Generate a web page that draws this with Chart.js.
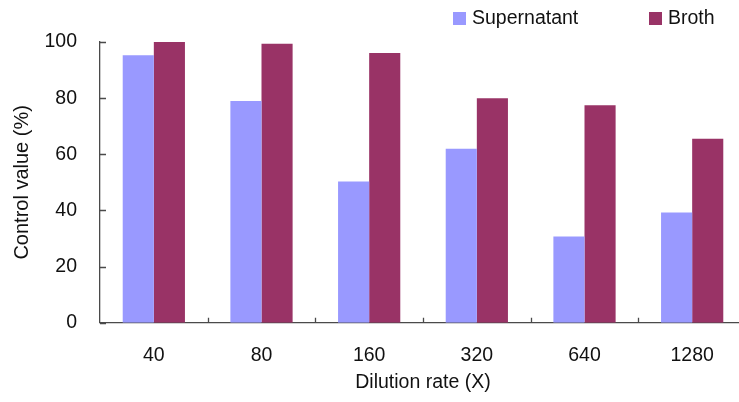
<!DOCTYPE html>
<html>
<head>
<meta charset="utf-8">
<script src="https://cdn.jsdelivr.net/npm/chart.js@4/dist/chart.umd.min.js"></script>
<style>
  html, body { margin: 0; padding: 0; background: #fff; overflow: hidden; }
  #wrap { position: relative; width: 746px; height: 402px; }
</style>
</head>
<body>
<div id="wrap"><canvas id="chart"></canvas></div>
<script>
// Dilution rates (X)
const dilutionRates = ['40', '80', '160', '320', '640', '1280'];
// Control value (%) per dilution rate
const supernatantValues = [95.3, 79.0, 50.3, 62.0, 30.7, 39.3];
const brothValues = [100.0, 99.4, 96.1, 80.0, 77.5, 65.5];
// Y axis ticks
const yTickValues = [0, 20, 40, 60, 80, 100];

const FONT = "'Liberation Sans', Arial, sans-serif";
const AXIS_COLOR = '#4a4a4a';

// Short tick marks drawn inside the plot area, in the style of the axes
const innerTicks = {
  id: 'innerTicks',
  afterDatasetsDraw(chart) {
    const { ctx, chartArea, scales: { x, y } } = chart;
    ctx.save();
    ctx.strokeStyle = AXIS_COLOR;
    ctx.lineWidth = 1.3;
    ctx.beginPath();
    yTickValues.forEach(v => {
      const py = Math.round(y.getPixelForValue(v)) + 0.5;
      ctx.moveTo(chartArea.left, py);
      ctx.lineTo(chartArea.left + 6, py);
    });
    for (let i = 1; i < dilutionRates.length; i++) {
      const px = Math.round((x.getPixelForTick(i - 1) + x.getPixelForTick(i)) / 2) + 0.5;
      ctx.moveTo(px, chartArea.bottom);
      ctx.lineTo(px, chartArea.bottom - 5);
    }
    ctx.stroke();
    ctx.restore();
  }
};

// Legend row above the plot, right side
const topLegend = {
  id: 'topLegend',
  afterDraw(chart) {
    const { ctx } = chart;
    const items = [
      { ds: chart.data.datasets[0], x: 453 },
      { ds: chart.data.datasets[1], x: 649 }
    ];
    ctx.save();
    ctx.font = `19.5px ${FONT}`;
    ctx.textBaseline = 'middle';
    ctx.textAlign = 'left';
    items.forEach(it => {
      ctx.fillStyle = it.ds.backgroundColor;
      ctx.fillRect(it.x, 12, 13, 13);
      ctx.fillStyle = '#111';
      ctx.fillText(it.ds.label, it.x + 19, 18.5);
    });
    ctx.restore();
  }
};

new Chart(document.getElementById('chart'), {
  type: 'bar',
  data: {
    labels: dilutionRates,
    datasets: [
      { label: 'Supernatant', data: supernatantValues, backgroundColor: '#9999ff' },
      { label: 'Broth', data: brothValues, backgroundColor: '#993366' }
    ]
  },
  options: {
    responsive: true,
    maintainAspectRatio: false,
    animation: false,
    datasets: { bar: { categoryPercentage: 0.578, barPercentage: 1.0, borderWidth: 0 } },
    layout: { padding: { top: 42, right: 0, bottom: 0, left: 0 } },
    plugins: {
      legend: { display: false },
      tooltip: { enabled: false }
    },
    scales: {
      x: {
        grid: { display: false, drawTicks: false },
        border: { display: true, color: AXIS_COLOR, width: 1.3 },
        ticks: { color: '#111', padding: 21, font: { family: FONT, size: 19.5 } },
        title: {
          display: true, text: 'Dilution rate (X)', color: '#111',
          font: { family: FONT, size: 19.5 }, padding: { top: 0, bottom: 8 }
        },
        afterFit(scale) { scale.height = 79.3; }
      },
      y: {
        min: 0, max: 100,
        afterBuildTicks(scale) { scale.ticks = yTickValues.map(v => ({ value: v })); },
        grid: { display: false, drawTicks: false },
        border: { display: true, color: AXIS_COLOR, width: 1.3 },
        ticks: { color: '#111', padding: 23, font: { family: FONT, size: 19.5 } },
        title: {
          display: true, text: 'Control value (%)', color: '#111',
          font: { family: FONT, size: 20 }, padding: { top: 10, bottom: 0 }
        },
        afterFit(scale) { scale.width = 100; }
      }
    }
  },
  plugins: [innerTicks, topLegend]
});
</script>
</body>
</html>
